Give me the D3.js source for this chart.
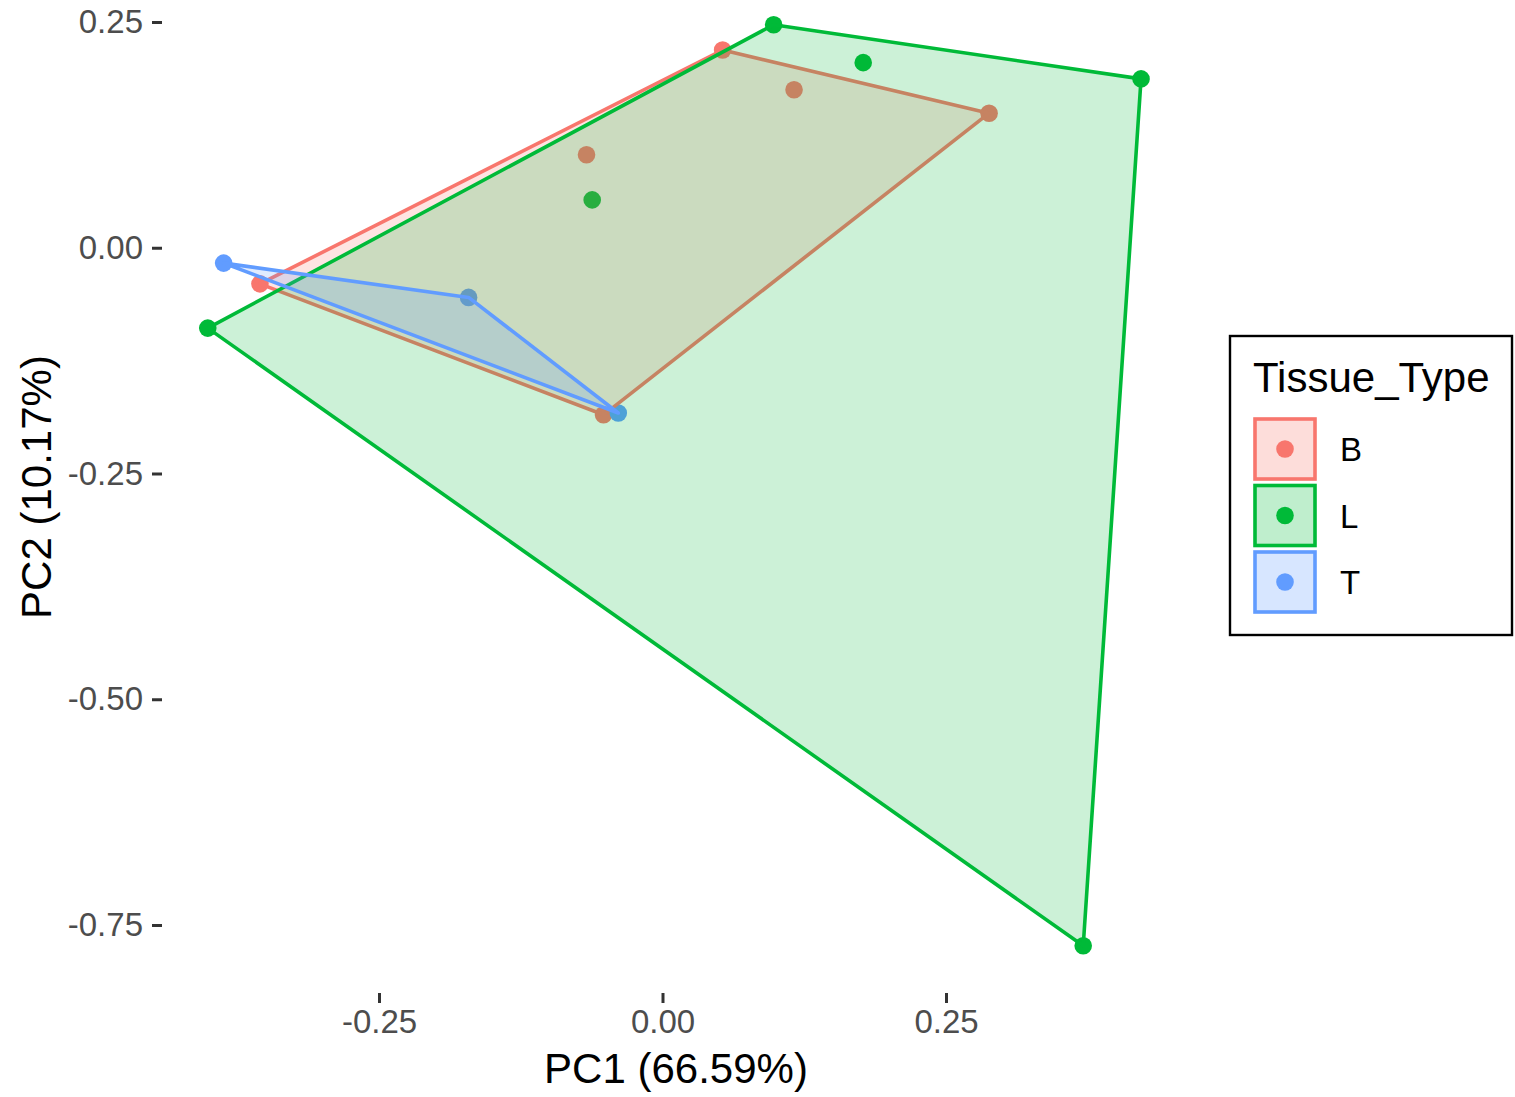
<!DOCTYPE html>
<html>
<head>
<meta charset="utf-8">
<script src="https://cdn.jsdelivr.net/npm/d3@7/dist/d3.min.js"></script>
<style>
  body { margin: 0; background: #fff; }
  svg text { font-family: "Liberation Sans", Arial, sans-serif; }
  .tick text { fill: #4d4d4d; font-size: 33px; }
  .tick line { stroke: #333; stroke-width: 3px; }
  .axis-title { fill: #000; font-size: 42px; }
</style>
</head>
<body>
<div id="vis"></div>
<script>
'use strict';

//PCA scores per tissue type
var groups = ['B', 'L', 'T'];
var groupColors = ['#F8766D', '#00BA38', '#619CFF'];
var pc1B = [-0.355, 0.053, 0.116, 0.288, -0.067, -0.052];
var pc2B = [-0.040, 0.219, 0.175, 0.149, 0.103, -0.185];
var pc1L = [0.098, 0.177, 0.422, 0.371, -0.401, -0.062];
var pc2L = [0.247, 0.205, 0.187, -0.773, -0.089, 0.053];
var pc1T = [-0.387, -0.171, -0.039];
var pc2T = [-0.017, -0.055, -0.183];

var xTicks = [-0.25, 0, 0.25];
var yTicks = [0.25, 0, -0.25, -0.5, -0.75];
var xLabel = 'PC1 (66.59%)';
var yLabel = 'PC2 (10.17%)';
var legendTitle = 'Tissue_Type';

var width = 1515, height = 1097;

var svg = d3.select('#vis').append('svg')
    .attr('width', width)
    .attr('height', height);

var x = d3.scaleLinear().domain([-0.25, 0.25]).range([379, 946]);
var y = d3.scaleLinear().domain([-0.75, 0.25]).range([925, 22]);
var color = d3.scaleOrdinal().domain(groups).range(groupColors);

//build point table from the arrays
var pcs = { B: [pc1B, pc2B], L: [pc1L, pc2L], T: [pc1T, pc2T] };
var points = [];
groups.forEach(function (g) {
    pcs[g][0].forEach(function (v, i) {
        points.push({ group: g, pc1: v, pc2: pcs[g][1][i] });
    });
});

//axes (no axis line, ticks only)
var xAxis = svg.append('g')
    .attr('transform', 'translate(0,' + 993 + ')')
    .call(d3.axisBottom(x).tickValues(xTicks).tickFormat(d3.format('.2f')).tickSize(10).tickPadding(6));
var yAxis = svg.append('g')
    .attr('transform', 'translate(' + 162 + ',0)')
    .call(d3.axisLeft(y).tickValues(yTicks).tickFormat(d3.format('.2f')).tickSize(10).tickPadding(9));
xAxis.select('.domain').remove();
yAxis.select('.domain').remove();
xAxis.selectAll('.tick text').attr('dy', '0.74em');
// d3 uses a unicode minus, ggplot used hyphen
svg.selectAll('.tick text').text(function (d) { return d3.format('.2f')(d).replace('\u2212', '-'); });

svg.append('text')
    .attr('class', 'axis-title')
    .attr('x', 676)
    .attr('y', 1083)
    .attr('text-anchor', 'middle')
    .text(xLabel);
svg.append('text')
    .attr('class', 'axis-title')
    .attr('transform', 'translate(51,487) rotate(-90)')
    .attr('text-anchor', 'middle')
    .text(yLabel);

//points first, hulls go on top of them
svg.append('g').selectAll('circle')
    .data(points)
    .enter().append('circle')
    .attr('cx', function (d) { return x(d.pc1); })
    .attr('cy', function (d) { return y(d.pc2); })
    .attr('r', 8.8)
    .style('fill', function (d) { return color(d.group); });

groups.forEach(function (g) {
    var pts = points.filter(function (d) { return d.group === g; })
        .map(function (d) { return [x(d.pc1), y(d.pc2)]; });
    var hull = d3.polygonHull(pts);
    svg.append('path')
        .attr('d', 'M' + hull.join('L') + 'Z')
        .style('fill', color(g))
        .style('fill-opacity', 0.2)
        .style('stroke', color(g))
        .style('stroke-width', 3.6)
        .style('stroke-linejoin', 'round');
});

//legend
var legend = svg.append('g').attr('transform', 'translate(1230,336)');
legend.append('rect')
    .attr('width', 282)
    .attr('height', 299)
    .style('fill', '#fff')
    .style('stroke', '#000')
    .style('stroke-width', 2.4);
legend.append('text')
    .attr('x', 23)
    .attr('y', 56)
    .style('font-size', '42px')
    .text(legendTitle);
var keys = legend.selectAll('.key')
    .data(groups)
    .enter().append('g')
    .attr('class', 'key')
    .attr('transform', function (d, i) { return 'translate(25,' + (83 + i * 66.5) + ')'; });
keys.append('rect')
    .attr('width', 60)
    .attr('height', 60)
    .style('fill', function (d) { return color(d); })
    .style('fill-opacity', 0.25)
    .style('stroke', function (d) { return color(d); })
    .style('stroke-width', 3.6);
keys.append('circle')
    .attr('cx', 30)
    .attr('cy', 30)
    .attr('r', 8.8)
    .style('fill', function (d) { return color(d); });
keys.append('text')
    .attr('x', 85)
    .attr('y', 42)
    .style('font-size', '33px')
    .text(function (d) { return d; });
</script>
</body>
</html>
